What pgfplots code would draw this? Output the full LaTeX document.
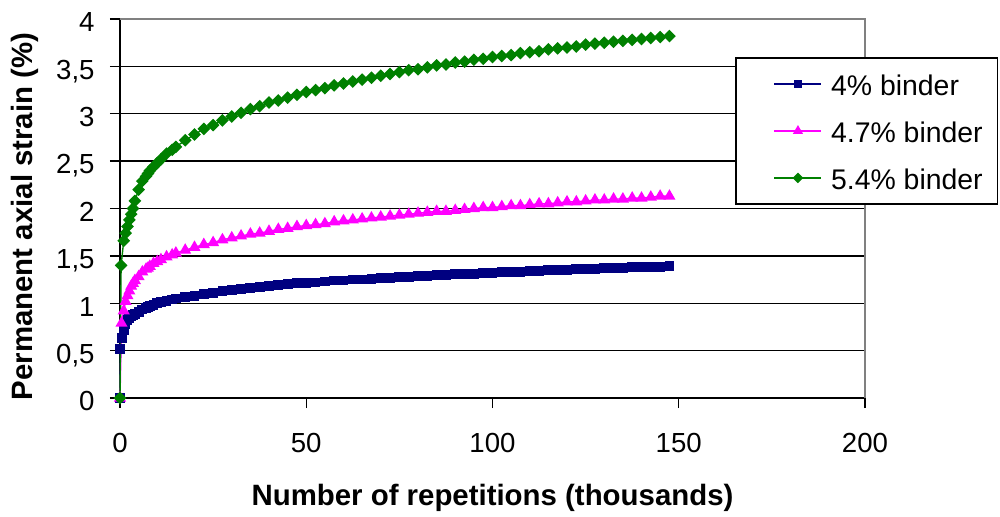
\documentclass[border=0pt]{standalone}
\usepackage{fontspec}
\setmainfont{Liberation Sans}
\usepackage{pgfplots}
\pgfplotsset{compat=1.18}
\definecolor{cblue}{HTML}{000080}
\definecolor{cpink}{HTML}{FF00FF}
\definecolor{cgreen}{HTML}{008000}
\begin{document}
\begin{tikzpicture}
\begin{axis}[
  scale only axis,
  width=372.5pt, height=189.5pt,
  xmin=0, xmax=200, ymin=0, ymax=4,
  clip=false,
  axis x line*=bottom, axis y line*=left,
  axis line style={line width=0.9pt, black},
  xtick={0,50,...,200},
  ytick={0,0.5,1,1.5,2,2.5,3,3.5,4},
  tick align=outside,
  major tick length=5pt,
  tick style={line width=0.7pt, black},
  ymajorgrids,
  grid style={line width=0.7pt, black},
  /pgf/number format/use comma,
  /pgf/number format/1000 sep={},
  /pgf/number format/assume math mode=true,
  tick label style={font=\fontsize{13.8}{16}\selectfont},
  yticklabel style={anchor=base east, inner sep=0pt, xshift=-7.5pt, yshift=-6.4pt},
  xticklabel style={anchor=base, inner sep=0pt, yshift=-22.4pt},
  xlabel={Number of repetitions (thousands)},
  ylabel={Permanent axial strain (\%)},
  label style={font=\bfseries\fontsize{14.7}{17}\selectfont, inner sep=0pt},
  xlabel style={at={(axis description cs:0.5,-0.2823)}, anchor=base},
  ylabel style={at={(axis description cs:-0.1168,0.479)}, anchor=base},
  legend style={at={(axis description cs:0.8255,0.8997)}, anchor=north west,
    draw=black, line width=0.75pt, fill=white,
    inner xsep=7.5pt, inner ysep=4pt, row sep=5.35pt,
    font=\fontsize{14.2}{17}\selectfont,
    nodes={inner sep=0pt, text height=14.65pt, text depth=3.5pt}},
  legend cell align=left,
  legend image code/.code={
    \path (-11.5pt,0pt) (28pt,0pt);
    \draw[#1, every mark/.append style={scale=0.8}, mark repeat=2, mark phase=2]
      plot coordinates {(0pt,0pt) (11.75pt,0pt) (23.5pt,0pt)};
  },
]
\coordinate (BL) at (rel axis cs:0,0);

% 4% binder
\addplot[color=cblue, line width=0.7pt, mark=square*, mark size=2.1pt] coordinates {
  (0,0) (0.1,0.52) (0.5,0.63) (1,0.72) (1.5,0.78) (2,0.82) (2.5,0.84) (3,0.86) (3.5,0.875)
  (4,0.89) (5,0.91) (6,0.935) (7,0.95) (7.5,0.96) (8,0.97) (9,0.98) (10,1.00) (11,1.01)
  (12.5,1.02) (14,1.04) (15,1.05) (17.5,1.07) (20,1.08)
  (22.5,1.10) (25,1.11) (27.5,1.13) (30,1.14) (32.5,1.15) (35,1.16) (37.5,1.17) (40,1.18)
  (42.5,1.19) (45,1.20) (47.5,1.21) (50,1.21) (52.5,1.22) (55,1.23) (57.5,1.24) (60,1.24)
  (62.5,1.25) (65,1.25) (67.5,1.26) (70,1.27) (72.5,1.27) (75,1.28) (77.5,1.28) (80,1.29)
  (82.5,1.29) (85,1.30) (87.5,1.30) (90,1.31) (92.5,1.31) (95,1.31) (97.5,1.32) (100,1.32)
  (102.5,1.33) (105,1.33) (107.5,1.33) (110,1.34) (112.5,1.34) (115,1.35) (117.5,1.35)
  (120,1.35) (122.5,1.36) (125,1.36) (127.5,1.36) (130,1.37) (132.5,1.37) (135,1.37)
  (137.5,1.38) (140,1.38) (142.5,1.38) (145,1.38) (147.5,1.39)
};
\addlegendentry{4\% binder}

% 4.7% binder
\addplot[color=cpink, line width=0.7pt, mark=triangle*, mark size=2.8pt] coordinates {
  (0,0) (0.4,0.79) (1,0.92) (1.5,1.02) (2,1.08) (2.5,1.13) (3,1.18) (3.5,1.21) (4,1.24)
  (5,1.28) (6,1.33) (7,1.36) (7.5,1.37) (8,1.39) (9,1.42) (10,1.44) (11,1.46) (12.5,1.49)
  (14,1.51) (15,1.53) (17.5,1.56) (20,1.59) (22.5,1.62)
  (25,1.64) (27.5,1.67) (30,1.69) (32.5,1.71) (35,1.73) (37.5,1.74) (40,1.76) (42.5,1.78)
  (45,1.79) (47.5,1.81) (50,1.82) (52.5,1.83) (55,1.84) (57.5,1.86) (60,1.87) (62.5,1.88)
  (65,1.89) (67.5,1.90) (70,1.91) (72.5,1.92) (75,1.93) (77.5,1.94) (80,1.95) (82.5,1.96)
  (85,1.97) (87.5,1.97) (90,1.98) (92.5,1.99) (95,2.00) (97.5,2.01) (100,2.01) (102.5,2.02)
  (105,2.03) (107.5,2.03) (110,2.04) (112.5,2.05) (115,2.05) (117.5,2.06) (120,2.07)
  (122.5,2.07) (125,2.08) (127.5,2.09) (130,2.09) (132.5,2.10) (135,2.10) (137.5,2.11)
  (140,2.11) (142.5,2.12) (145,2.13) (147.5,2.13)
};
\addlegendentry{4.7\% binder}

% 5.4% binder
\addplot[color=cgreen, line width=0.7pt, mark=square*, mark size=1.9pt, mark options={rotate=45}] coordinates {
  (0,0) (0.3,1.40) (1,1.66) (1.5,1.74) (2,1.81) (2.5,1.88) (3,1.94) (3.5,2.00) (4,2.08)
  (5,2.20) (6,2.29) (7,2.34) (7.5,2.37) (8,2.40) (9,2.44) (10,2.48) (11,2.52) (12.5,2.58)
  (14,2.62) (15,2.65) (17.5,2.72) (20,2.78) (22.5,2.84)
  (25,2.88) (27.5,2.93) (30,2.97) (32.5,3.01) (35,3.05) (37.5,3.08) (40,3.12) (42.5,3.14)
  (45,3.17) (47.5,3.20) (50,3.23) (52.5,3.25) (55,3.27) (57.5,3.30) (60,3.32) (62.5,3.34)
  (65,3.36) (67.5,3.38) (70,3.40) (72.5,3.42) (75,3.44) (77.5,3.46) (80,3.47) (82.5,3.49)
  (85,3.51) (87.5,3.52) (90,3.54) (92.5,3.55) (95,3.57) (97.5,3.58) (100,3.60) (102.5,3.61)
  (105,3.62) (107.5,3.64) (110,3.65) (112.5,3.66) (115,3.68) (117.5,3.69) (120,3.70)
  (122.5,3.71) (125,3.73) (127.5,3.74) (130,3.75) (132.5,3.76) (135,3.77) (137.5,3.78)
  (140,3.79) (142.5,3.80) (145,3.81) (147.5,3.82)
};
\addlegendentry{5.4\% binder}

\draw[gray, line width=0.75pt] (rel axis cs:0,1) -- (rel axis cs:1,1) -- (rel axis cs:1,0);
\end{axis}
\path (BL) ++(-60pt,-59pt) rectangle ++(500pt,258pt);
\end{tikzpicture}
\end{document}
